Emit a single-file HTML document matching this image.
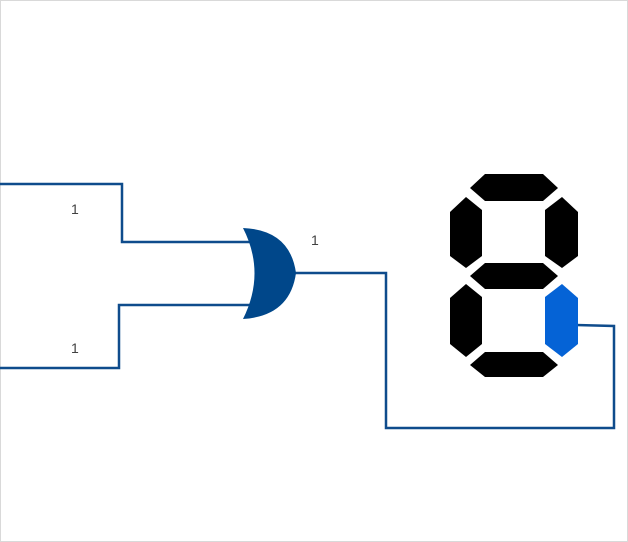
<!DOCTYPE html>
<html><head><style>
html,body{margin:0;padding:0;background:#fff}
svg{display:block}
</style></head><body>
<svg width="628" height="542" viewBox="0 0 628 542" xmlns="http://www.w3.org/2000/svg">
<rect x="0.5" y="0.5" width="627" height="541" fill="#fff" stroke="#d9d9d9"/>
<g fill="none" stroke="#0f4c8c" stroke-width="2.5">
<polyline points="0,184 122,184 122,242 254,242"/>
<polyline points="0,368 119,368 119,305 254,305"/>
<polyline points="294,273 386,273 386,428 614,428 614,326 576,325"/>
</g>
<path d="M243,228 Q290,230 296,273 Q290,316 243,319 Q266,273 243,228 Z" fill="#00478a"/>
<g fill="#000">
<polygon points="470,188 485,174 543,174 558,188 543,201 485,201"/>
<polygon points="450,212 466,197 482,210 482,256 466,268 450,256"/>
<polygon points="545,210 562,197 578,212 578,256 562,268 545,256"/>
<polygon points="470,276 485,263 543,263 558,276 543,289 485,289"/>
<polygon points="450,298 466,284 482,297 482,344 466,357 450,344"/>
<polygon points="470,365 485,352 543,352 558,365 543,377 485,377"/>
</g>
<polygon points="545,297 562,284 578,298 578,344 562,357 545,344" fill="#0563d6"/>
<g font-family="Liberation Sans, sans-serif" font-size="14" fill="#404040">
<text x="71" y="214">1</text>
<text x="71" y="353">1</text>
<text x="311" y="245">1</text>
</g>
</svg>
</body></html>
